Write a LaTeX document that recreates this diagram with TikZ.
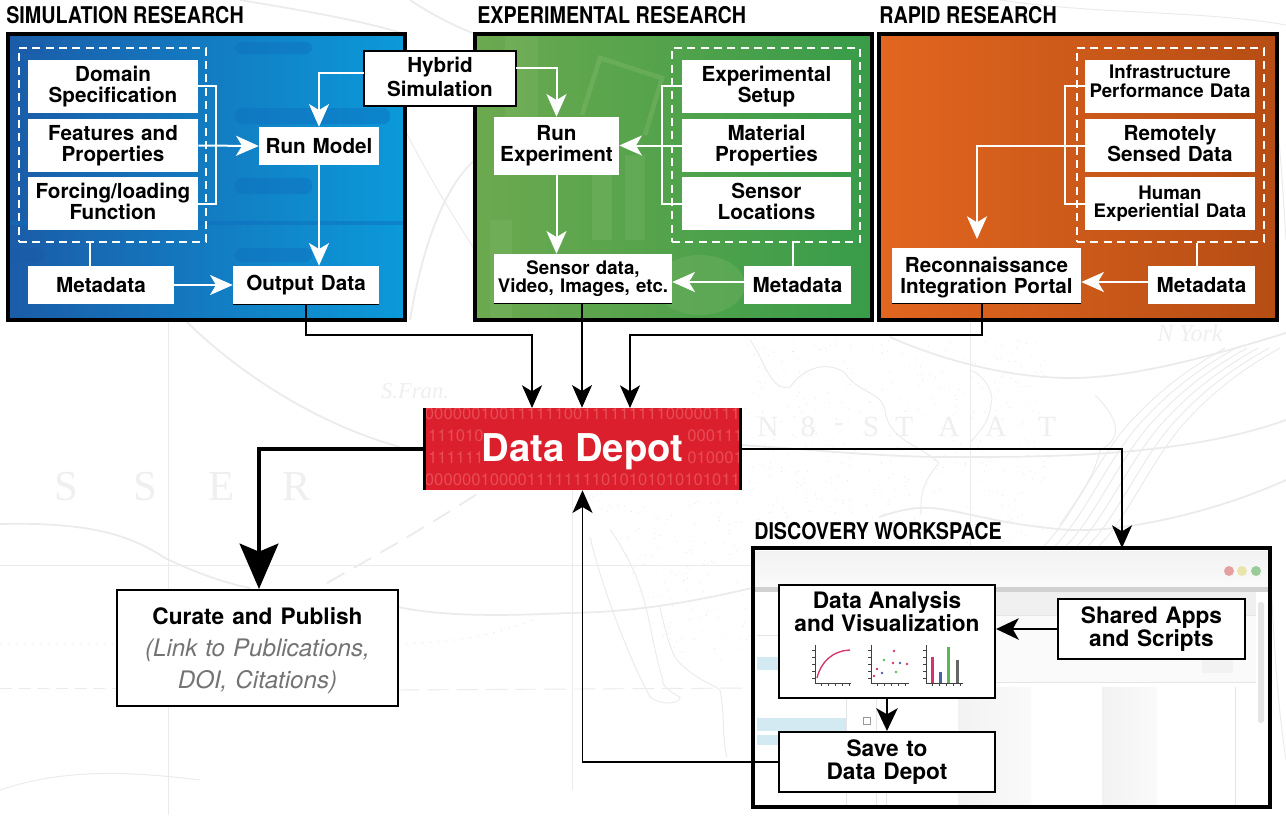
\documentclass[tikz,border=0pt]{standalone}
\usepackage{fontspec}
\setmainfont{TeX Gyre Heros}
\newfontfamily\headfont[FakeStretch=0.855]{TeX Gyre Heros}
\newfontfamily\mapfont{Liberation Serif}
\usetikzlibrary{arrows.meta,calc}
\definecolor{mapgrey}{HTML}{EBEBEB}
\definecolor{maptextgrey}{HTML}{EFEFEF}
\definecolor{bluedark}{HTML}{1B5CA8}
\definecolor{bluelight}{HTML}{0B9ADA}
\definecolor{blueband}{HTML}{0E6FBE}
\definecolor{greenleft}{HTML}{6CA94F}
\definecolor{greenright}{HTML}{389C49}
\definecolor{greenband}{HTML}{82B96B}
\definecolor{orangeleft}{HTML}{E2661F}
\definecolor{orangeright}{HTML}{B64D14}
\definecolor{depotred}{HTML}{DB1F2D}
\definecolor{depotdigit}{HTML}{E84C56}
\definecolor{sidebarblue}{HTML}{D3EAF3}
\definecolor{chartpink}{HTML}{D6336C}
\definecolor{chartblue}{HTML}{4A62A8}
\definecolor{chartgreen}{HTML}{5DB55A}
\tikzset{
  x=0.75pt,y=-0.75pt,
  whitebox/.style={fill=white,inner sep=0pt,align=center,font=\bfseries\fontsize{15.5}{15.7}\selectfont},
  smallbox/.style={whitebox,font=\bfseries\fontsize{14}{13.8}\selectfont},
  blackbox/.style={fill=white,draw=black,line width=1.6pt,inner sep=0pt,align=center,font=\bfseries\fontsize{17}{17.3}\selectfont},
  panel/.style={draw=black,line width=2.6pt},
  dashbox/.style={draw=white,line width=1.1pt,dash pattern=on 6pt off 4pt},
  wline/.style={draw=white,line width=1.5pt},
  warrow/.style={wline,-{Stealth[length=17pt,width=15pt,inset=4.5pt]}},
  barrow/.style={draw=black,line width=1.3pt,-{Stealth[length=17pt,width=15pt,inset=4.5pt]}},
  marrow/.style={draw=black,line width=1.8pt,-{Stealth[length=17pt,width=16pt,inset=4.5pt]}},
  thickarrow/.style={draw=black,line width=3pt,-{Stealth[length=34pt,width=29pt,inset=6pt]}},
  heading/.style={anchor=west,inner sep=0pt,font=\headfont\bfseries\fontsize{17.3}{18}\selectfont},
  mapline/.style={draw=mapgrey,line width=1.3pt},
  mapthin/.style={draw=mapgrey,line width=.7pt},
  maptext/.style={text=maptextgrey,inner sep=0pt,font=\mapfont\fontsize{32}{32}\selectfont},
  maptextb/.style={text=maptextgrey,inner sep=0pt,font=\mapfont\fontsize{22}{22}\selectfont},
  band/.style={fill=blueband,rounded corners=5pt,opacity=.45},
  gband/.style={fill=greenband,opacity=.3},
  axisline/.style={draw=black!75,line width=.6pt},
  winline/.style={draw=black!10,line width=.7pt},
}
% style, name, x0, y0, x1, y1, text
\newcommand\pxbox[7]{%
  \node[#1,minimum width={(#5-#3)*0.75pt},minimum height={(#6-#4)*0.75pt},text width={(#5-#3)*0.75pt}] (#2) at ({(#3+#5)/2},{(#4+#6)/2}) {#7};}
\begin{document}
\begin{tikzpicture}
\useasboundingbox (0,0) rectangle (1286,815);
\fill[white] (0,0) rectangle (1286,815);

% faint map behind everything: stipple
\pgfmathsetseed{4242}
\foreach \n in {1,...,420} {
  \pgfmathsetmacro\dx{745+rnd*300}\pgfmathsetmacro\dy{340+rnd*205}
  \fill[black!11] (\dx,\dy) circle (.5);
}
\foreach \n in {1,...,170} {
  \pgfmathsetmacro\dx{590+rnd*160}\pgfmathsetmacro\dy{492+rnd*170}
  \pgfmathparse{\dx>(590+(\dy-492)*.5)?1:0}
  \ifnum\pgfmathresult=1 \fill[black!11] (\dx,\dy) circle (.5);\fi
}
% faint map: lines
\draw[mapline] (185,320) .. controls (240,375) and (320,425) .. (400,447);
\draw[mapline] (0,524) .. controls (90,522) and (130,535) .. (165,558) .. controls (190,570) and (220,582) .. (250,588);
\draw[mapline] (398,607) .. controls (450,618) and (520,615) .. (570,613) .. controls (640,612) and (700,600) .. (752,588);
\draw[mapthin] (0,565) -- (752,565);
\draw[mapthin] (168,320) -- (168,815);
\draw[mapthin] (572,490) -- (572,790);
\draw[mapthin] (970,320) -- (970,548);
\draw[mapline] (890,337) .. controls (930,355) and (1000,378) .. (1071,378) .. controls (1140,378) and (1230,350) .. (1286,333);
\draw[mapline] (740,445) .. controls (820,450) and (880,457) .. (949,457) .. controls (1040,457) and (1180,458) .. (1286,420);
\draw[mapline] (879,517) .. controls (900,510) and (915,507) .. (932,508) .. controls (960,510) and (1000,525) .. (1071,530) .. controls (1130,532) and (1220,510) .. (1286,480);
\draw[mapthin] (750,340) .. controls (765,360) and (770,392) .. (790,387) .. controls (810,360) and (835,365) .. (845,373) .. controls (860,395) and (880,390) .. (885,410) .. controls (888,440) and (920,445) .. (939,463) .. controls (925,480) and (920,490) .. (921,515);
\draw[mapthin] (970,370) .. controls (985,375) and (995,395) .. (991,403) .. controls (990,425) and (975,435) .. (970,443);
\draw[mapthin] (1095,395) .. controls (1110,410) and (1130,435) .. (1100,450) .. controls (1095,475) and (1080,495) .. (1060,525);
\foreach \off in {0,11,22,33,44,55} {
  \draw[mapthin] ($(1043,547)+(\off,0)$) .. controls ($(1075,515)+(\off,0)$) and ($(1100,460)+(\off,-8)$) .. ($(1135,425)+(\off,-8)$) .. controls ($(1165,395)+(\off,-10)$) and ($(1195,375)+(\off,-10)$) .. ($(1225,360)+(\off,-12)$);
}
\draw[mapline,dash pattern=on 15pt off 8pt] (327,583) .. controls (380,553) and (430,525) .. (483,490);
\draw[mapthin,dash pattern=on 1pt off 5pt] (0,643) -- (117,643);
\draw[mapthin,dash pattern=on 1pt off 5pt] (398,643) .. controls (440,645) and (500,635) .. (533,620);
\draw[mapthin,dash pattern=on 9pt off 5pt] (0,688) -- (117,688);
\draw[mapthin,dash pattern=on 16pt off 6pt] (398,690) -- (750,688);
\draw[mapthin] (590,537) .. controls (600,580) and (625,650) .. (650,697) .. controls (660,705) and (680,705) .. (680,697) .. controls (665,690) and (660,680) .. (663,680) .. controls (650,640) and (650,600) .. (627,557) .. controls (620,545) and (615,535) .. (610,530);
\draw[mapthin] (660,607) .. controls (665,630) and (670,650) .. (677,660) .. controls (695,680) and (715,685) .. (720,690) .. controls (725,715) and (722,740) .. (727,757);
\draw[mapline] (410,0) .. controls (440,20) and (465,30) .. (475,34);
\draw[mapline] (410,320) .. controls (420,260) and (440,190) .. (475,160);
\draw[mapthin] (405,130) .. controls (425,170) and (455,220) .. (475,250);
\draw[mapline] (240,0) .. controls (300,10) and (360,20) .. (405,34);
\draw[mapthin] (1000,0) .. controls (1100,15) and (1200,10) .. (1286,25);
\draw[mapthin] (1277,120) .. controls (1282,170) and (1284,210) .. (1286,240);
\draw[mapthin] (1272,600) .. controls (1276,680) and (1280,720) .. (1286,760);
\draw[mapthin] (200,780) .. controls (120,770) and (60,770) .. (0,790);
\foreach \nm/\lx/\ch in {a/66/S,b/145/S,c/222/E,d/297/R} {
  \node[maptext] (map\nm) at (\lx,487) {\ch};
}
\node[maptext,font=\mapfont\itshape\fontsize{17}{17}\selectfont] (mapFr) at (415,391) {S.Fran.};
\foreach \nm/\lx/\ch in {e/768/N,f/808/8,g/839/-,h/871/S,i/904/T,j/949/A,k/996/A,l/1047/T} {
  \node[maptextb] (map\nm) at (\lx,427) {\ch};
}
\node[maptextb,font=\mapfont\itshape\fontsize{18}{18}\selectfont] (mapNY) at (1190,333) {N York};

% panels
\begin{scope}
  \clip (8,34) rectangle (405,320);
  \shade[left color=bluedark,right color=bluelight] (8,34) rectangle (405,320);
  \fill[band] (235,42) rectangle (312,54);
  \fill[band] (235,108) rectangle (390,124);
  \fill[band] (235,178) rectangle (312,194);
  \fill[band] (235,248) rectangle (312,262);
  \fill[band,fill=bluedark,opacity=.8] (10,248) rectangle (44,262);
  \fill[bluedark,opacity=.5] (10,42) rectangle (44,54);
  \fill[blueband,opacity=.5] (0,221) rectangle (405,225);
\end{scope}
\draw[panel] (8,34) rectangle (405,320);

\begin{scope}
  \clip (475,34) rectangle (872,320);
  \shade[left color=greenleft,right color=greenright] (475,34) rectangle (872,320);
  \draw[draw=greenband,line width=3.5pt,opacity=.4] (582,115) -- (600,58) -- (662,78) -- (645,135);
  \fill[gband] (592,155) rectangle (612,240);
  \fill[gband] (625,155) rectangle (645,240);
  \fill[gband] (490,220) rectangle (512,320);
  \fill[gband] (505,34) rectangle (538,120);
  \fill[gband] (700,285) ellipse (45 and 30);
\end{scope}
\draw[panel] (475,34) rectangle (872,320);

\begin{scope}
  \clip (879,34) rectangle (1277,320);
  \shade[left color=orangeleft,right color=orangeright] (879,34) rectangle (1277,320);
\end{scope}
\draw[panel] (879,34) rectangle (1277,320);

% headings
\node[heading] (hSim) at (6,15) {SIMULATION RESEARCH};
\node[heading] (hExp) at (477,15) {EXPERIMENTAL RESEARCH};
\node[heading] (hRap) at (879,15) {RAPID RESEARCH};
\node[heading] (hDis) at (754,531) {DISCOVERY WORKSPACE};

% dashed groups
\node[dashbox,minimum width={187*0.75pt},minimum height={194*0.75pt},inner sep=0pt] (dSim) at (112.5,145) {};
\node[dashbox,minimum width={188*0.75pt},minimum height={194*0.75pt},inner sep=0pt] (dExp) at (766,145) {};
\node[dashbox,minimum width={187*0.75pt},minimum height={194*0.75pt},inner sep=0pt] (dRap) at (1170.5,145) {};

% simulation boxes
\pxbox{whitebox}{domain}{28}{60}{198}{113}{Domain\\Specification}
\pxbox{whitebox}{features}{28}{119}{198}{172}{Features and\\Properties}
\pxbox{whitebox}{forcing}{28}{177}{198}{230}{Forcing/loading\\Function\vphantom{p}}
\pxbox{whitebox}{runmodel}{259}{127}{379}{165}{Run Model}
\pxbox{whitebox}{metaSim}{28}{266}{174}{304}{Metadata}
\pxbox{whitebox}{output}{233}{266}{379}{304}{Output Data}
\draw[black,line width=1pt] (output.south west) -- (output.south east);

% experimental boxes
\pxbox{whitebox}{setup}{682}{60}{851}{113}{Experimental\\Setup}
\pxbox{whitebox}{material}{682}{119}{851}{172}{Material\\Properties}
\pxbox{whitebox}{sensorloc}{682}{177}{851}{230}{Sensor\\Locations\vphantom{p}}
\pxbox{whitebox}{runexp}{494}{117}{619}{175}{Run\\Experiment}
\pxbox{smallbox}{sensordata}{494}{254}{672}{303}{Sensor data,\\Video, Images, etc.}
\pxbox{whitebox}{metaExp}{744}{266}{851}{304}{Metadata}
\draw[black,line width=1pt] (sensordata.south west) -- (sensordata.south east);

% rapid boxes
\pxbox{smallbox,font=\bfseries\fontsize{14}{14.2}\selectfont}{infra}{1085}{60}{1255}{113}{Infrastructure\\Performance Data\rule[-7.5pt]{0pt}{1pt}}
\pxbox{whitebox}{remote}{1085}{119}{1255}{172}{Remotely\\Sensed Data\vphantom{p}}
\pxbox{smallbox}{human}{1085}{177}{1255}{230}{Human\\Experiential Data}
\pxbox{whitebox}{recon}{892}{248}{1081}{303}{\rule{0pt}{14pt}Reconnaissance\\Integration Portal}
\pxbox{whitebox}{metaRap}{1148}{266}{1255}{304}{Metadata}
\draw[black,line width=1pt] (recon.south west) -- (recon.south east);

% hybrid
\pxbox{blackbox,line width=1.2pt,font=\bfseries\fontsize{15.5}{18}\selectfont}{hybrid}{364}{51}{516}{106}{\rule{0pt}{13pt}Hybrid\\Simulation\vphantom{p}}

% coordinates for free routing
\coordinate (hybL) at (364,73);
\coordinate (hybR) at (516,68);
\coordinate (brSim) at (216,86);
\coordinate (brExp) at (662,86);
\coordinate (brRap) at (1065,86);
\coordinate (metaSimUp) at (90,266);
\coordinate (metaExpUp) at (793,266);
\coordinate (metaRapUp) at (1197,266);
\coordinate (outDown) at (306,304);
\coordinate (sensDown) at (582,303);
\coordinate (reconDown) at (982,303);
\coordinate (reconIn) at (977,239);

% white connectors: simulation
\draw[wline] (domain.east |- brSim) -| (forcing.east -| brSim) -- (forcing.east);
\draw[warrow] (features.east) -- (runmodel.west);
\draw[warrow] (hybL) -| (runmodel.north);
\draw[warrow] (runmodel.south) -- (runmodel.south |- output.north);
\draw[wline] (metaSimUp) -- (metaSimUp |- dSim.south);
\draw[warrow] (metaSim.east) -- (output.west);

% white connectors: experimental
\draw[wline] (setup.west |- brExp) -| (sensorloc.west -| brExp) -- (sensorloc.west);
\draw[warrow] (material.west) -- (material.west -| runexp.east);
\draw[warrow] (hybR) -| (runexp.north);
\draw[warrow] (runexp.south) -- (runexp.south |- sensordata.north);
\draw[wline] (metaExpUp) -- (metaExpUp |- dExp.south);
\draw[warrow] (metaExp.west |- 0,282) -- (sensordata.east |- 0,282);

% white connectors: rapid
\draw[wline] (infra.west |- brRap) -| (human.west -| brRap) -- (human.west);
\draw[warrow] (remote.west) -| (reconIn);
\draw[wline] (metaRapUp) -- (metaRapUp |- dRap.south);
\draw[warrow] (metaRap.west |- 0,282) -- (recon.east |- 0,282);

% data depot
\begin{scope}
  \clip (423,408) rectangle (742,490);
  \fill[depotred] (423,408) rectangle (742,490);
  \tikzset{digits/.style={text=depotdigit,inner sep=0pt,font=\fontsize{12.5}{12.5}\selectfont}}
  \node[digits] (dgA) at (582.5,414) {0000001001111110011111111100000111};
  \node[digits,anchor=east] (dgB) at (484,436) {111010};
  \node[digits,anchor=west] (dgC) at (687,436) {000111};
  \node[digits,anchor=east] (dgD) at (484,458) {111111};
  \node[digits,anchor=west] (dgE) at (687,458) {010001};
  \node[digits] (dgF) at (582.5,480) {0000001000011111111010101010101011};
  \fill[black] (423,408) rectangle (426,490);
  \fill[black] (739,408) rectangle (742,490);
\end{scope}
\node[inner sep=0pt,minimum width={319*0.75pt},minimum height={82*0.75pt},text=white,font=\bfseries\fontsize{28.7}{28.7}\selectfont] (depot) at (582.5,449) {\raisebox{-9.5pt}[0pt][0pt]{Data Depot}};

% curate
\pxbox{blackbox,line width=1.5pt,font=\fontsize{18.1}{24}\selectfont}{curate}{117}{590}{398}{706}{{\bfseries\fontsize{17}{24}\selectfont \rule{0pt}{16pt}Curate and Publish}\\{\itshape\color{black!55}(Link to Publications,\\DOI, Citations)}}

% discovery workspace window
\begin{scope}
  \clip (753,548) rectangle (1270,807);
  \fill[white] (753,548) rectangle (1270,807);
  \shade[top color=black!5,bottom color=black!2] (753,551) rectangle (1270,587);
  \fill[black!18] (753,587) rectangle (1270,592);
  \fill[black!6] (846,592) rectangle (1256,615);
  \fill[black!2] (846,615) rectangle (1256,682);
  \fill[black!5] (1202,660) rectangle (1233,673);
  \draw[winline] (846,615) -- (1256,615);
  \draw[winline] (846,682) -- (1256,682);
  \draw[winline] (757,635) -- (846,635);
  \shade[left color=black!5,right color=black!2] (958,687) rectangle (1031,807);
  \shade[left color=black!5,right color=black!2] (1102,687) rectangle (1157,807);
  \draw[winline] (1235,687) -- (1235,807);
  \draw[winline] (846,698) -- (846,807);
  \draw[winline] (876,698) -- (876,807);
  \draw[winline] (886,698) -- (886,807);
  \fill[sidebarblue] (757,657) rectangle (846,670);
  \fill[sidebarblue] (757,718) rectangle (846,731);
  \fill[sidebarblue] (757,735) rectangle (846,745);
  \fill[black!10,rounded corners=2pt] (1258,602) rectangle (1264,723);
  \draw[black!40,line width=.5pt] (863.5,717.5) rectangle (870.5,724.5);
  \fill[red!30!white!90!black] (1229,571) circle (5);
  \fill[yellow!30!white!90!black] (1242,571) circle (5);
  \fill[green!25!white!80!black] (1256,571) circle (5);
\end{scope}
\draw[panel] (753,548) rectangle (1270,807);

\pxbox{blackbox}{analysis}{779}{585}{995}{698}{}
\node[inner sep=0pt,align=center,font=\bfseries\fontsize{17}{17.3}\selectfont] (analysisText) at (887,612) {Data Analysis\\and Visualization};
\pxbox{blackbox}{save}{779}{732}{995}{792}{Save to\\Data Depot}
\pxbox{blackbox}{shared}{1058}{599}{1245}{659}{Shared Apps\\and Scripts}

% mini charts inside analysis box
\draw[axisline] (815,645) -- (815,683) -- (851,683);
\foreach \ty in {650,657,664,671,678} \draw[axisline] (812,\ty) -- (815,\ty);
\foreach \tx in {821,828,835,842,849} \draw[axisline] (\tx,683) -- (\tx,686);
\draw[chartpink,line width=1pt] (817,678) .. controls (821,662) and (832,651) .. (850,650);
\draw[axisline] (871,645) -- (871,683) -- (909,683);
\foreach \ty in {650,657,664,671,678} \draw[axisline] (868,\ty) -- (871,\ty);
\foreach \tx in {877,884,891,898,905} \draw[axisline] (\tx,683) -- (\tx,686);
\foreach \px/\py/\pc in {874/676/chartpink,877/669/chartpink,882/673/chartblue,884/660/chartgreen,894/651/chartpink,893/663/chartpink,900/663/chartblue,907/664/chartpink,896/672/chartgreen}
  \fill[\pc] (\px,\py) circle (1.4);
\draw[axisline] (926,645) -- (926,683) -- (963,683);
\foreach \ty in {650,657,664,671,678} \draw[axisline] (923,\ty) -- (926,\ty);
\foreach \tx in {932,939,946,953,960} \draw[axisline] (\tx,683) -- (\tx,686);
\fill[chartpink] (930.5,657) rectangle (933.5,683);
\fill[chartblue] (938.5,672) rectangle (941.5,683);
\fill[chartgreen] (946.5,647) rectangle (949.5,683);
\fill[black!60] (955.5,660) rectangle (958.5,683);

% black connectors
\coordinate (depotInA) at (532,408);
\coordinate (depotInB) at (630,408);
\draw[barrow] (outDown) |- (depotInA |- 0,335) -- (depotInA);
\draw[barrow] (sensDown) -- (sensDown |- depot.north);
\draw[barrow] (reconDown) |- (depotInB |- 0,335) -- (depotInB);
\draw[thickarrow] (depot.west) -| (curate.north -| 259,0);
\draw[barrow] (depot.east) -| (1122,548);
\draw[marrow] (shared.west |- 0,629) -- (analysis.east |- 0,629);
\draw[marrow] (analysis.south) -- (analysis.south |- save.north);
\draw[barrow] (save.west) -| (depot.south);
\end{tikzpicture}
\end{document}
